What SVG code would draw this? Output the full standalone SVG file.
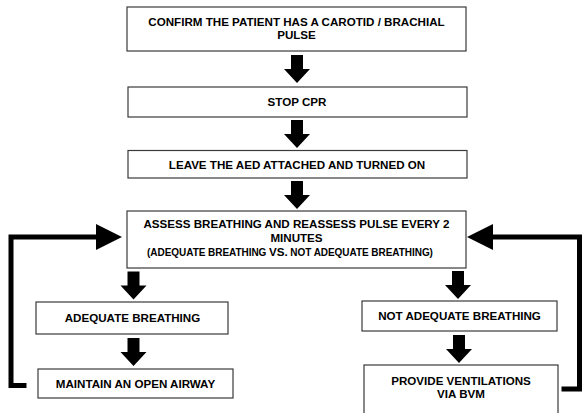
<svg xmlns="http://www.w3.org/2000/svg" xmlns:xlink="http://www.w3.org/1999/xlink" width="583" height="413" viewBox="0 0 583 413">
  <style>
    .box { fill: #ffffff; stroke: #3a3a3a; stroke-width: 1.2; }
    .t { font-family: "Liberation Sans", Arial, sans-serif; font-weight: bold; font-size: 11.6px; letter-spacing: 0px; fill: #000; text-anchor: middle; }
    .s { font-size: 10px; letter-spacing: -0.05px; }
    .vs { font-size: 11.6px; }
    .loop { fill: none; stroke: #000; stroke-width: 5; stroke-linecap: square; stroke-linejoin: miter; }
    .ah { fill: #000; }
  </style>
  <defs>
    <path id="darrow" d="M -6 0 H 6 V 14 H 13 L 0 28 L -13 14 H -6 Z" fill="#000"/>
  </defs>
  <rect width="583" height="413" fill="#ffffff"/>

  <g id="connectors">
    <use xlink:href="#darrow" href="#darrow" x="297" y="55"/>
    <use xlink:href="#darrow" href="#darrow" x="297" y="120"/>
    <use xlink:href="#darrow" href="#darrow" x="297" y="181"/>
    <use xlink:href="#darrow" href="#darrow" x="133.5" y="271.5"/>
    <use xlink:href="#darrow" href="#darrow" x="133.5" y="338"/>
    <use xlink:href="#darrow" href="#darrow" x="458" y="271"/>
    <use xlink:href="#darrow" href="#darrow" x="459" y="335"/>
    <path class="loop" d="M 24 385.5 H 11 V 237 H 97"/>
    <polygon class="ah" points="96,224 122,237 96,250"/>
    <path class="loop" d="M 564 389 H 579.5 V 237 H 493"/>
    <polygon class="ah" points="493,224 467,237 493,250"/>
  </g>

  <g id="confirm-pulse">
    <rect class="box" x="127" y="7" width="339" height="44"/>
    <text class="t" x="296.5" y="25.5">CONFIRM THE PATIENT HAS A CAROTID / BRACHIAL</text>
    <text class="t" x="296.5" y="38.5">PULSE</text>
  </g>

  <g id="stop-cpr">
    <rect class="box" x="128" y="87" width="339" height="30"/>
    <text class="t" x="297" y="106">STOP CPR</text>
  </g>

  <g id="leave-aed">
    <rect class="box" x="128" y="150.5" width="339" height="27.5"/>
    <text class="t" x="297" y="168.5">LEAVE THE AED ATTACHED AND TURNED ON</text>
  </g>

  <g id="assess">
    <rect class="box" x="127" y="211" width="339" height="57"/>
    <text class="t" x="296.5" y="228.2">ASSESS BREATHING AND REASSESS PULSE EVERY 2</text>
    <text class="t" x="296.5" y="242">MINUTES</text>
    <text class="t s" x="290" y="255.5">(ADEQUATE BREATHING <tspan class="vs">VS.</tspan> NOT ADEQUATE BREATHING)</text>
  </g>

  <g id="adequate">
    <rect class="box" x="36" y="302" width="192" height="32"/>
    <text class="t" x="132.5" y="321.7">ADEQUATE BREATHING</text>
  </g>

  <g id="maintain-airway">
    <rect class="box" x="38" y="369" width="195" height="29"/>
    <text class="t" x="135.5" y="388">MAINTAIN AN OPEN AIRWAY</text>
  </g>

  <g id="not-adequate">
    <rect class="box" x="362" y="301" width="195" height="30"/>
    <text class="t" x="459.5" y="320.2">NOT ADEQUATE BREATHING</text>
  </g>

  <g id="provide-ventilations">
    <rect class="box" x="364" y="365" width="194" height="60"/>
    <text class="t" x="461" y="384.5">PROVIDE VENTILATIONS</text>
    <text class="t" x="461" y="397.5">VIA BVM</text>
  </g>
</svg>
